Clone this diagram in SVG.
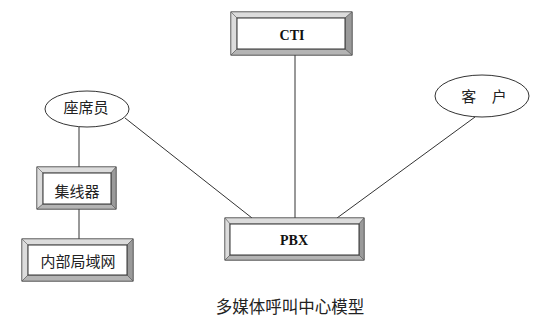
<svg xmlns="http://www.w3.org/2000/svg" width="550" height="332" viewBox="0 0 550 332">
<style>
.ol{fill:#ffffff;stroke:#333333;stroke-width:1}
.lt{fill:#dcdcdc;stroke:#666666;stroke-width:0.6}
.dk{fill:#9a9a9a;stroke:#555555;stroke-width:0.6}
.md{fill:#b4b4b4;stroke:#555555;stroke-width:0.6}
.in{fill:#ffffff;stroke:#333333;stroke-width:1}
.ell{fill:#ffffff;stroke:#333333;stroke-width:1}
.cn{font-family:"Noto Sans CJK SC","Noto Sans",sans-serif;font-size:15px;fill:#222222;text-anchor:middle}
.en{font-family:"Liberation Serif",serif;font-weight:bold;font-size:14px;fill:#111111;text-anchor:middle}
.cap{font-family:"Noto Sans CJK SC","Noto Sans",sans-serif;font-size:16.5px;fill:#222222;text-anchor:middle}
.ln{stroke:#333333;stroke-width:1;fill:none}
</style>
<rect width="550" height="332" fill="#ffffff"/>
<g id="connectors">
<line class="ln" x1="295" y1="55" x2="295" y2="218"/>
<line class="ln" x1="125" y1="118" x2="252" y2="218"/>
<line class="ln" x1="475" y1="117" x2="337" y2="218"/>
<line class="ln" x1="79" y1="127" x2="79" y2="167"/>
<line class="ln" x1="79" y1="209" x2="79" y2="239"/>
</g>
<g id="cti">
<rect class="ol" x="231" y="12" width="121" height="43"/>
<polygon class="lt" points="231,12 352,12 345,18 237,18"/>
<polygon class="lt" points="231,12 237,18 237,49 231,55"/>
<polygon class="dk" points="352,12 352,55 345,49 345,18"/>
<polygon class="md" points="231,55 237,49 345,49 352,55"/>
<rect class="in" x="237" y="18" width="108" height="31"/>
<text class="en" x="292" y="40">CTI</text>
</g>
<g id="pbx">
<rect class="ol" x="225" y="218" width="139" height="42"/>
<polygon class="lt" points="225,218 364,218 359,224 230,224"/>
<polygon class="lt" points="225,218 230,224 230,255 225,260"/>
<polygon class="dk" points="364,218 364,260 359,255 359,224"/>
<polygon class="md" points="225,260 230,255 359,255 364,260"/>
<rect class="in" x="230" y="224" width="129" height="31"/>
<text class="en" x="294" y="245">PBX</text>
</g>
<g id="agent">
<ellipse class="ell" cx="87" cy="109" rx="42" ry="18"/>
<text class="cn" x="86" y="113">座席员</text>
</g>
<g id="customer">
<ellipse class="ell" cx="482" cy="96" rx="47" ry="21"/>
<text class="cn" x="484" y="102" word-spacing="12">客 户</text>
</g>
<g id="hub">
<rect class="ol" x="37" y="167" width="79" height="42"/>
<polygon class="lt" points="37,167 116,167 111,173 43,173"/>
<polygon class="lt" points="37,167 43,173 43,204 37,209"/>
<polygon class="dk" points="116,167 116,209 111,204 111,173"/>
<polygon class="md" points="37,209 43,204 111,204 116,209"/>
<rect class="in" x="43" y="173" width="68" height="31"/>
<text class="cn" x="77" y="197">集线器</text>
</g>
<g id="lan">
<rect class="ol" x="22" y="239" width="111" height="42"/>
<polygon class="lt" points="22,239 133,239 127,245 28,245"/>
<polygon class="lt" points="22,239 28,245 28,275 22,281"/>
<polygon class="dk" points="133,239 133,281 127,275 127,245"/>
<polygon class="md" points="22,281 28,275 127,275 133,281"/>
<rect class="in" x="28" y="245" width="99" height="30"/>
<text class="cn" x="78" y="267">内部局域网</text>
</g>
<text class="cap" x="290" y="313">多媒体呼叫中心模型</text>
</svg>
